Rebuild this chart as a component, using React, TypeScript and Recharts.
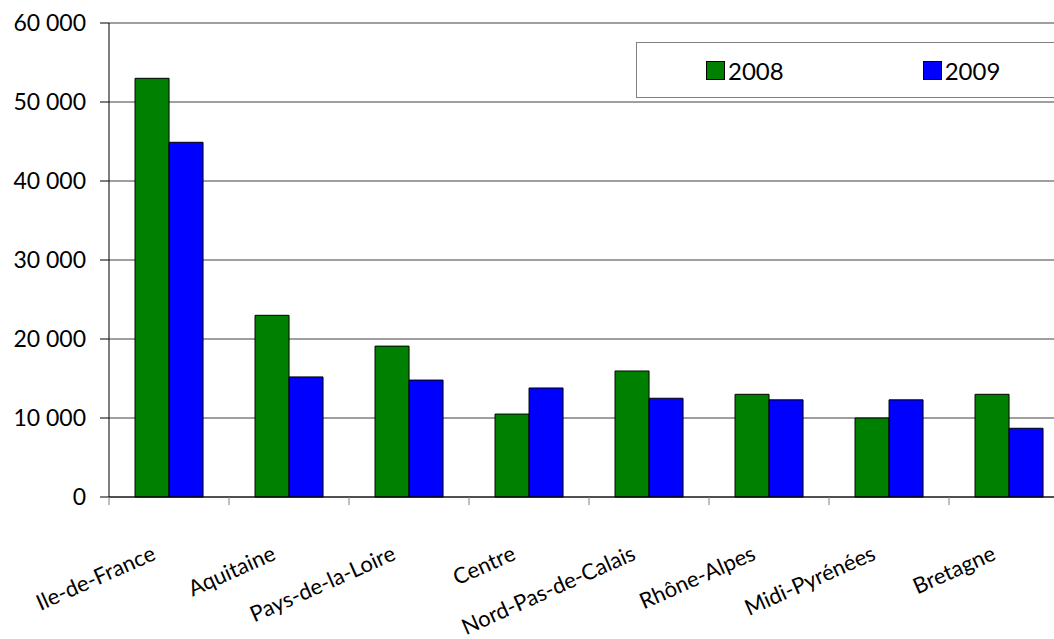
import { BarChart, Bar, XAxis, YAxis, CartesianGrid } from "recharts";

const regions = [
  "Ile-de-France",
  "Aquitaine",
  "Pays-de-la-Loire",
  "Centre",
  "Nord-Pas-de-Calais",
  "Rhône-Alpes",
  "Midi-Pyrénées",
  "Bretagne",
];
const values2008 = [53000, 23000, 19100, 10500, 15950, 13000, 10000, 13000];
const values2009 = [44900, 15200, 14800, 13800, 12500, 12300, 12300, 8700];
const yTicks = [0, 10000, 20000, 30000, 40000, 50000, 60000];
const seriesNames = ["2008", "2009"];
const seriesColors = ["#008000", "#0000ff"];

const data = regions.map((region, i) => ({
  region,
  y2008: values2008[i],
  y2009: values2009[i],
}));

const FONT = "Lato, 'DejaVu Sans', sans-serif";

const fmt = (v: number) => String(v).replace(/\B(?=(\d{3})+(?!\d))/g, " ");

function RegionTick(props: any) {
  const { x, y, payload } = props;
  const half = payload?.offset || 60;
  const tx = x - 12;
  const ty = y + 54;
  return (
    <g>
      <line x1={x - half} y1={y - 8} x2={x - half} y2={y} stroke="#808080" />
      <text
        x={tx}
        y={ty}
        textAnchor="end"
        transform={`rotate(-24, ${tx}, ${ty})`}
        fontFamily={FONT}
        fontSize={22}
        fill="#000"
      >
        {payload.value}
      </text>
    </g>
  );
}

function LegendBox() {
  return (
    <div
      style={{
        position: "absolute",
        left: 636,
        top: 42,
        width: 440,
        height: 56,
        border: "1px solid #808080",
        background: "#fff",
        display: "flex",
        alignItems: "center",
        fontFamily: FONT,
        fontSize: 24,
        boxSizing: "border-box",
      }}
    >
      {seriesNames.map((name, i) => (
        <div
          key={name}
          style={{ display: "flex", alignItems: "center", marginLeft: i === 0 ? 69 : 139 }}
        >
          <span
            style={{
              width: 17,
              height: 17,
              background: seriesColors[i],
              border: "1px solid #000",
              marginRight: 3,
              display: "inline-block",
            }}
          />
          <span>{name}</span>
        </div>
      ))}
    </div>
  );
}

export default function App() {
  return (
    <div
      style={{
        position: "absolute",
        left: 0,
        top: 0,
        width: 1054,
        height: 639,
        overflow: "hidden",
        background: "#fff",
      }}
    >
      <BarChart
        width={1069}
        height={639}
        data={data}
        margin={{ top: 23, right: 0, bottom: 0, left: 0 }}
        barCategoryGap="21.7%"
        barGap={0}
      >
        <CartesianGrid vertical={false} stroke="#404040" />
        <XAxis
          dataKey="region"
          height={142}
          interval={0}
          tickLine={false}
          axisLine={{ stroke: "#000" }}
          tick={<RegionTick />}
        />
        <YAxis
          width={109}
          domain={[0, 60000]}
          ticks={yTicks}
          tickFormatter={fmt}
          tickSize={9}
          tickMargin={14}
          axisLine={{ stroke: "#000" }}
          tickLine={{ stroke: "#000" }}
          tick={{ fontFamily: FONT, fontSize: 23, fill: "#000" }}
        />
        <Bar dataKey="y2008" name={seriesNames[0]} fill={seriesColors[0]} stroke="#000" isAnimationActive={false} />
        <Bar dataKey="y2009" name={seriesNames[1]} fill={seriesColors[1]} stroke="#000" isAnimationActive={false} />
      </BarChart>
      <LegendBox />
    </div>
  );
}
